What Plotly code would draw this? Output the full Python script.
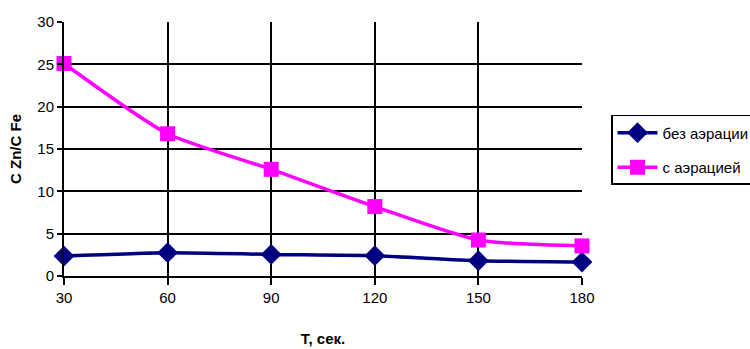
import plotly.graph_objects as go

t = [30, 60, 90, 120, 150, 180]
no_aer = [2.35, 2.75, 2.55, 2.4, 1.8, 1.65]
with_aer = [25.1, 16.8, 12.6, 8.2, 4.25, 3.55]
y_ticks = [0, 5, 10, 15, 20, 25, 30]

FONT = "Liberation Sans, Arial"

fig = go.Figure()
fig.add_trace(go.Scatter(
    x=t, y=no_aer, name="без аэрации", mode="lines+markers",
    legendgroup="a",
    line=dict(color="#000080", width=3.5, shape="spline", smoothing=0.6),
    marker=dict(symbol="diamond", size=16, color="#000080"),
    cliponaxis=False,
))
fig.add_trace(go.Scatter(
    x=t, y=with_aer, name="с аэрацией", mode="lines+markers",
    legendgroup="b",
    line=dict(color="#FF00FF", width=3.5, shape="spline", smoothing=0.6),
    marker=dict(symbol="square", size=15, color="#FF00FF"),
    cliponaxis=False,
))

fig.update_layout(
    width=750, height=349,
    margin=dict(l=64, r=168, t=22, b=73, autoexpand=False),
    paper_bgcolor="white", plot_bgcolor="white",
    font=dict(family=FONT, size=15, color="black"),
    showlegend=True,
    legend=dict(
        x=1.056, y=0.634, xanchor="left", yanchor="top",
        bordercolor="black", borderwidth=1.5,
        font=dict(family=FONT, size=15, color="black"),
        itemwidth=40, tracegroupgap=12,
    ),
    xaxis=dict(
        range=[30, 180], tickvals=t, ticktext=[str(v) for v in t],
        showgrid=True, gridcolor="black", gridwidth=1.5,
        showline=True, linecolor="black", linewidth=2,
        ticks="outside", ticklen=7, tickcolor="black", tickwidth=1.5,
        zeroline=False,
        title=dict(text="<b>Т, сек.</b>", font=dict(family=FONT, size=15), standoff=28),
    ),
    yaxis=dict(
        range=[0, 30], tickvals=y_ticks,
        showgrid=True, gridcolor="black", gridwidth=1.5,
        showline=True, linecolor="black", linewidth=2,
        ticks="outside", ticklen=5, tickcolor="black", tickwidth=1.5,
        zeroline=False,
        title=dict(text="<b>C Zn/C Fe</b>", font=dict(family=FONT, size=15), standoff=12),
    ),
)

fig.write_html("out.html")
